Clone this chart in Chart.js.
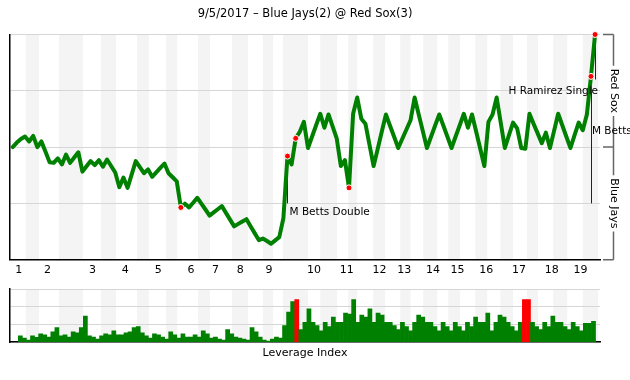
<!DOCTYPE html>
<html>
<head>
<meta charset="utf-8">
<script src="https://cdn.jsdelivr.net/npm/chart.js@4"></script>
<style>
html, body { margin: 0; padding: 0; background: #fff; }
canvas { display: block; }
</style>
</head>
<body>
<canvas id="wpChart" width="630" height="285"></canvas>
<canvas id="liChart" width="630" height="95"></canvas>
<script>
// game data
const title = '9/5/2017 – Blue Jays(2) @ Red Sox(3)';
const homeTeam = 'Red Sox';
const awayTeam = 'Blue Jays';
const innings = ['1','2','3','4','5','6','7','8','9','10','11','12','13','14','15','16','17','18','19'];
const inningStart = [0, 7, 18, 26, 34, 42, 48, 54, 61, 72, 80, 88, 94, 101, 107, 114, 122, 130, 137];

// Red Sox win probability (%) after each plate appearance, 0 = first pitch
const winProb = [
  50, 52, 53.6, 54.7, 52.5, 55, 50, 52.5, 47.9, 43.3,
  43, 45, 42.3, 46.7, 43, 45.4, 47.7, 39.1, 41.5, 43.8,
  42, 44.2, 41.3, 44.5, 41.6, 38.7, 32.2, 36.5, 31.9, 37.8,
  43.8, 41.1, 38.4, 40.1, 36.8, 38.8, 40.8, 42.7, 38.4, 36.6,
  34.8, 23.2, 24.9, 23.2, 25.3, 27.5, 24.9, 22.3, 19.6, 21,
  22.4, 23.8, 20.8, 17.8, 14.8, 15.9, 17, 18, 14.9, 11.8,
  8.7, 9.4, 8.3, 7.1, 8.6, 10, 18.4, 46, 42.3, 53.9,
  56.8, 61.2, 49.6, 54.7, 59.8, 64.8, 58.6, 64.5, 59.2, 53.9,
  41.6, 44.2, 31.9, 64.8, 72, 62.6, 60.4, 51, 41.6, 49.2,
  56.9, 64.5, 59.5, 54.6, 49.6, 53.7, 57.8, 61.9, 72, 64.5,
  57.1, 49.6, 54.6, 59.6, 64.5, 59.6, 54.6, 49.6, 54.7, 59.7,
  64.8, 58.6, 64.5, 56.9, 49.3, 41.6, 61.2, 64.5, 72, 60.8,
  49.6, 55.3, 60.9, 58.3, 49.6, 49.3, 64.8, 60.4, 56.1, 51.7,
  56.4, 49.6, 57.2, 64.8, 59.7, 54.6, 49.6, 55.3, 60.9, 57.5,
  64.5, 81.4, 100
];

// leverage index of each plate appearance (1..142)
const leverage = [
  0.71, 0.47, 0.24, 0.71, 0.55, 0.94, 0.82, 0.59, 1.18, 1.65,
  0.71, 0.82, 0.59, 1.18, 1.06, 1.65, 2.94, 0.71, 0.59, 0.35,
  0.71, 0.94, 0.82, 1.29, 0.82, 0.82, 1.06, 1.18, 1.65, 1.76,
  1.06, 0.71, 0.47, 0.94, 0.82, 0.59, 0.35, 1.18, 0.82, 0.47,
  0.94, 0.59, 0.59, 0.82, 0.59, 1.29, 0.94, 0.47, 0.59, 0.35,
  0.24, 1.41, 0.94, 0.59, 0.47, 0.35, 0.24, 1.65, 1.18, 0.59,
  0.24, 0.12, 0.35, 0.59, 0.47, 1.88, 3.41, 4.59, 4.82, 1.41,
  2.24, 3.76, 2.24, 1.88, 1.29, 2.24, 1.76, 2.82, 2.24, 2.24,
  3.29, 3.18, 4.82, 2.24, 3.06, 2.82, 3.76, 2.24, 3.29, 3.06,
  2.24, 2.24, 1.88, 1.41, 2.24, 1.76, 1.29, 2.24, 3.06, 2.82,
  2.24, 2.24, 1.76, 1.29, 2.24, 1.76, 1.29, 2.24, 1.76, 1.29,
  2.24, 1.76, 2.82, 2.24, 2.24, 3.29, 1.29, 2.24, 3.06, 2.82,
  2.24, 1.76, 1.29, 2.24, 4.82, 4.82, 2.24, 1.76, 1.41, 2.24,
  1.76, 2.94, 2.24, 2.24, 1.76, 1.41, 2.24, 1.76, 1.29, 2.12,
  2.12, 2.35
];

const keyPlays = [41, 67, 69, 82, 141, 142];
const redBars = [69, 125, 126];
const notes = [
  { at: 67, text: 'M Betts Double' },
  { at: 141, text: 'M Betts' },
  { at: 142, text: 'H Ramirez Single' }
];

// shaded half innings, in plate appearance units
const bands = [
  [3.2, 6.4], [11.3, 17.1], [21.5, 25.2], [30.3, 33.2], [37.4, 40.1], [45.2, 48.1],
  [53.5, 57.4], [61, 63.5], [65.9, 72], [75, 79.1], [81.8, 84],
  [87.9, 90.8], [94.5, 97], [100.1, 103.5], [106.2, 109.1], [112.8, 115.7],
  [118.9, 122], [125.4, 128.1], [131.8, 135.2], [139, 142.7]
];

const FONT = 'DejaVu Sans';
const GREEN = '#008000';
const GRID = '#d6d6d6';
const BAND = '#f4f4f4';

let wpChart;

function paintBands(chart, xScale) {
  const ctx = chart.ctx;
  const a = chart.chartArea;
  ctx.save();
  ctx.fillStyle = BAND;
  bands.forEach(b => {
    const x0 = Math.max(a.left, xScale.getPixelForValue(b[0]));
    const x1 = Math.min(a.right, xScale.getPixelForValue(b[1]));
    ctx.fillRect(x0, a.top, x1 - x0, a.bottom - a.top);
  });
  ctx.restore();
}

const bandPlugin = {
  id: 'bands',
  beforeDraw(chart) {
    paintBands(chart, chart.canvas.id === 'wpChart' ? chart.scales.x : wpChart.scales.x);
  }
};

const notePlugin = {
  id: 'notes',
  beforeDatasetsDraw(chart) {
    const ctx = chart.ctx;
    const xs = chart.scales.x, ys = chart.scales.y;
    ctx.save();
    ctx.strokeStyle = '#222';
    ctx.lineWidth = 1;
    notes.forEach(n => {
      const x = Math.round(xs.getPixelForValue(n.at)) + 0.5;
      const yTop = ys.getPixelForValue(winProb[n.at]);
      const yEnd = n.at === 142 ? ys.getPixelForValue(80) : ys.getPixelForValue(25);
      ctx.beginPath();
      ctx.moveTo(x, yTop);
      ctx.lineTo(x, yEnd);
      ctx.stroke();
    });
    ctx.restore();
  },
  afterDatasetsDraw(chart) {
    const ctx = chart.ctx;
    const xs = chart.scales.x, ys = chart.scales.y;
    const a = chart.chartArea;
    ctx.save();
    // bracket on the right
    const bx = a.right + 13.5;
    ctx.strokeStyle = '#666';
    ctx.lineWidth = 1.5;
    ctx.font = '11px "' + FONT + '"';
    const yT = ys.getPixelForValue(100), yM = ys.getPixelForValue(50), yB = ys.getPixelForValue(0);
    ctx.beginPath();
    [yT, yM, yB].forEach(y => { ctx.moveTo(a.right + 3, y); ctx.lineTo(bx, y); });
    const halves = [[yT, yM, homeTeam], [yM, yB, awayTeam]];
    halves.forEach(h => {
      const mid = (h[0] + h[1]) / 2;
      const half = ctx.measureText(h[2]).width / 2 + 3;
      ctx.moveTo(bx, h[0]); ctx.lineTo(bx, mid - half);
      ctx.moveTo(bx, mid + half); ctx.lineTo(bx, h[1]);
    });
    ctx.stroke();
    ctx.fillStyle = '#000';
    ctx.textAlign = 'center';
    ctx.textBaseline = 'middle';
    halves.forEach(h => {
      ctx.save();
      ctx.translate(bx, (h[0] + h[1]) / 2);
      ctx.rotate(Math.PI / 2);
      ctx.fillText(h[2], 0, 0);
      ctx.restore();
    });
    // play labels
    ctx.font = '10.5px "' + FONT + '"';
    notes.forEach(n => {
      const x = xs.getPixelForValue(n.at);
      if (n.at === 67) {
        ctx.textAlign = 'left';
        ctx.fillText(n.text, x + 2, ys.getPixelForValue(25) + 9);
      } else if (n.at === 141) {
        ctx.textAlign = 'left';
        ctx.fillText(n.text, x + 1, ys.getPixelForValue(57));
      } else {
        ctx.textAlign = 'right';
        ctx.fillText(n.text, x + 3, ys.getPixelForValue(75));
      }
    });
    ctx.restore();
  }
};

wpChart = new Chart(document.getElementById('wpChart'), {
  type: 'line',
  data: {
    datasets: [{
      data: keyPlays.map(i => ({ x: i, y: winProb[i] })),
      showLine: false,
      pointRadius: 3,
      pointBackgroundColor: '#ff0000',
      pointBorderColor: '#ffffff',
      pointBorderWidth: 1,
      clip: false
    }, {
      data: winProb.map((v, i) => ({ x: i, y: v })),
      borderColor: GREEN,
      borderWidth: 4,
      borderJoinStyle: 'round',
      borderCapStyle: 'round',
      pointRadius: 0,
      tension: 0,
      clip: false
    }]
  },
  options: {
    responsive: false,
    animation: false,
    devicePixelRatio: 1,
    layout: { padding: { left: 10, right: 30, top: 0, bottom: 3.5 } },
    plugins: {
      legend: { display: false },
      tooltip: { enabled: false },
      title: {
        display: true,
        text: title,
        color: '#000',
        font: { family: FONT, size: 11.5, weight: 'normal' },
        padding: { top: 7, bottom: 13.7 }
      }
    },
    scales: {
      x: {
        type: 'linear',
        min: -0.66,
        max: 143.2,
        afterBuildTicks: s => { s.ticks = inningStart.map(v => ({ value: v })); },
        grid: { display: false, drawTicks: false },
        border: { display: true, color: '#000', width: 1.5 },
        ticks: {
          autoSkip: false,
          maxRotation: 0,
          labelOffset: 6,
          padding: 4.3,
          color: '#000',
          font: { family: FONT, size: 11 },
          callback: (v, i) => innings[i]
        }
      },
      y: {
        min: 0,
        max: 100,
        ticks: { display: false, stepSize: 25 },
        grid: { color: GRID, drawTicks: false },
        border: { display: true, color: '#000', width: 1.5 }
      }
    }
  },
  plugins: [bandPlugin, notePlugin]
});

new Chart(document.getElementById('liChart'), {
  type: 'bar',
  data: {
    datasets: [{
      data: leverage.map((v, i) => ({ x: i + 1, y: v })),
      backgroundColor: leverage.map((v, i) => redBars.includes(i + 1) ? '#ff0000' : GREEN),
      barPercentage: 1,
      categoryPercentage: 1,
      borderWidth: 0
    }]
  },
  options: {
    responsive: false,
    animation: false,
    devicePixelRatio: 1,
    layout: { padding: { left: 10, right: 30, top: 4, bottom: 19.8 } },
    plugins: { legend: { display: false }, tooltip: { enabled: false } },
    scales: {
      x: {
        type: 'linear',
        offset: false,
        min: -1.54,
        max: 143.6,
        grid: { display: false, drawTicks: false },
        border: { display: true, color: '#000', width: 1.5 },
        ticks: { display: false },
        title: {
          display: true,
          text: 'Leverage Index',
          color: '#000',
          font: { family: FONT, size: 11 },
          padding: { top: 4.8, bottom: 0 }
        }
      },
      y: {
        min: 0,
        max: 6,
        ticks: { display: false, stepSize: 2 },
        grid: { color: GRID, drawTicks: false },
        border: { display: true, color: '#000', width: 1.5 }
      }
    }
  },
  plugins: [bandPlugin]
});
</script>
</body>
</html>
